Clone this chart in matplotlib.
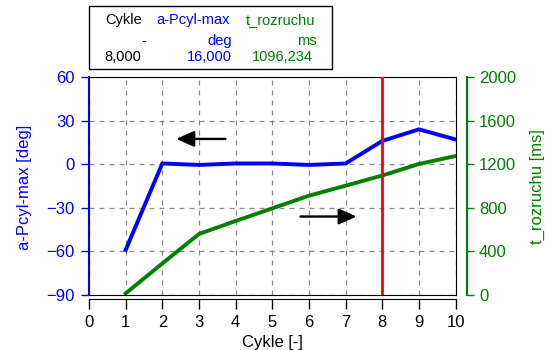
import matplotlib
matplotlib.use('Agg')
import matplotlib.pyplot as plt
from matplotlib.patches import Rectangle

plt.rcParams['font.family'] = ['Liberation Sans', 'DejaVu Sans']

cycles = [1, 2, 3, 4, 5, 6, 7, 8, 9, 10]
a_pcyl = [-59, 0.5, -0.5, 0.5, 0.5, -0.5, 0.5, 16, 24, 17]
t_rozruchu = [15, 289, 560, 679, 795, 911, 1003, 1096.234, 1202, 1275]
x_ticks = list(range(0, 11))
left_ticks = [-90, -60, -30, 0, 30, 60]
right_ticks = [0, 400, 800, 1200, 1600, 2000]
cursor_x = 8

BLUE = '#0000FF'
GREEN = '#008000'
RED = '#FF0000'

W, H = 551, 350
fig = plt.figure(figsize=(W / 100, H / 100), dpi=100)
L, R, T, B = 89, 455.6, 77, 295
ax = fig.add_axes([L / W, 1 - B / H, (R - L) / W, (B - T) / H])
ax2 = ax.twinx()

ax.set_xlim(0, 10)
ax.set_ylim(-90, 60)
ax2.set_ylim(0, 2000)
ax.set_xticks(x_ticks)
ax.set_yticks(left_ticks)
ax2.set_yticks(right_ticks)

ax.grid(True, color='#888888', linestyle=(0, (4, 4)), linewidth=0.9)
ax.set_axisbelow(True)

ax.plot(cycles, a_pcyl, color=BLUE, lw=2.8, solid_joinstyle='miter', zorder=3)
ax2.plot(cycles, t_rozruchu, color=GREEN, lw=2.8, zorder=3)
ax2.axvline(cursor_x, color=RED, lw=2, zorder=4)

# arrows
arrow_style = dict(arrowstyle='-|>,head_length=0.45,head_width=0.2', color='black',
                   lw=1.7, mutation_scale=24, shrinkA=0, shrinkB=0)
ax.annotate('', xy=(2.38, 17.4), xytext=(3.72, 17.4), arrowprops=arrow_style)
ax.annotate('', xy=(7.3, -36), xytext=(5.77, -36), arrowprops=arrow_style)

# spines
ax.spines['left'].set_color(BLUE)
ax.spines['left'].set_linewidth(1.5)
ax.spines['bottom'].set_position(('outward', 3))
ax.spines['bottom'].set_color('black')
ax.spines['top'].set_color('black')
ax.spines['right'].set_color('black')
for s in ['left', 'top']:
    ax2.spines[s].set_visible(False)
ax2.spines['bottom'].set_color('black')
ax2.spines['right'].set_position(('outward', 8.3))
ax2.spines['right'].set_color(GREEN)
ax2.spines['right'].set_linewidth(1.5)

FS = 12
ax.tick_params(axis='y', colors=BLUE, labelcolor=BLUE, labelsize=FS,
               length=6, width=1, pad=4.5, direction='out')
ax.tick_params(axis='x', colors='black', labelsize=FS, length=7, width=1, pad=4.5)
ax2.tick_params(axis='y', colors=GREEN, labelcolor=GREEN, labelsize=FS,
                length=5, width=1, pad=3.5)

fig.text(25 / W, 1 - 187 / H, 'a-Pcyl-max [deg]', color=BLUE, fontsize=FS,
         rotation=90, ha='center', va='center')
fig.text(537 / W, 1 - 187 / H, 't_rozruchu [ms]', color=GREEN, fontsize=FS,
         rotation=90, ha='center', va='center')
fig.text(272 / W, 1 - 342 / H, 'Cykle [-]', color='black', fontsize=FS,
         ha='center', va='center')

# value table
fig.patches.append(Rectangle((89 / W, 1 - 69 / H), (332 - 89) / W, (69 - 5.5) / H,
                             transform=fig.transFigure, fill=False,
                             edgecolor='black', lw=1.0))
fs = 10.5
rows_y = [20, 41, 57]
fig.text(105 / W, 1 - rows_y[0] / H, 'Cykle', color='black', fontsize=fs, ha='left', va='center')
fig.text(156 / W, 1 - rows_y[0] / H, 'a-Pcyl-max', color=BLUE, fontsize=fs, ha='left', va='center')
fig.text(246 / W, 1 - rows_y[0] / H, 't_rozruchu', color=GREEN, fontsize=fs, ha='left', va='center')
fig.text(146 / W, 1 - rows_y[1] / H, '-', color='black', fontsize=fs, ha='right', va='center')
fig.text(232 / W, 1 - rows_y[1] / H, 'deg', color=BLUE, fontsize=fs, ha='right', va='center')
fig.text(317 / W, 1 - rows_y[1] / H, 'ms', color=GREEN, fontsize=fs, ha='right', va='center')
fig.text(141 / W, 1 - rows_y[2] / H, '8,000', color='black', fontsize=fs, ha='right', va='center')
fig.text(232 / W, 1 - rows_y[2] / H, '16,000', color=BLUE, fontsize=fs, ha='right', va='center')
fig.text(313 / W, 1 - rows_y[2] / H, '1096,234', color=GREEN, fontsize=fs, ha='right', va='center')

fig.savefig('out.png', dpi=100)
